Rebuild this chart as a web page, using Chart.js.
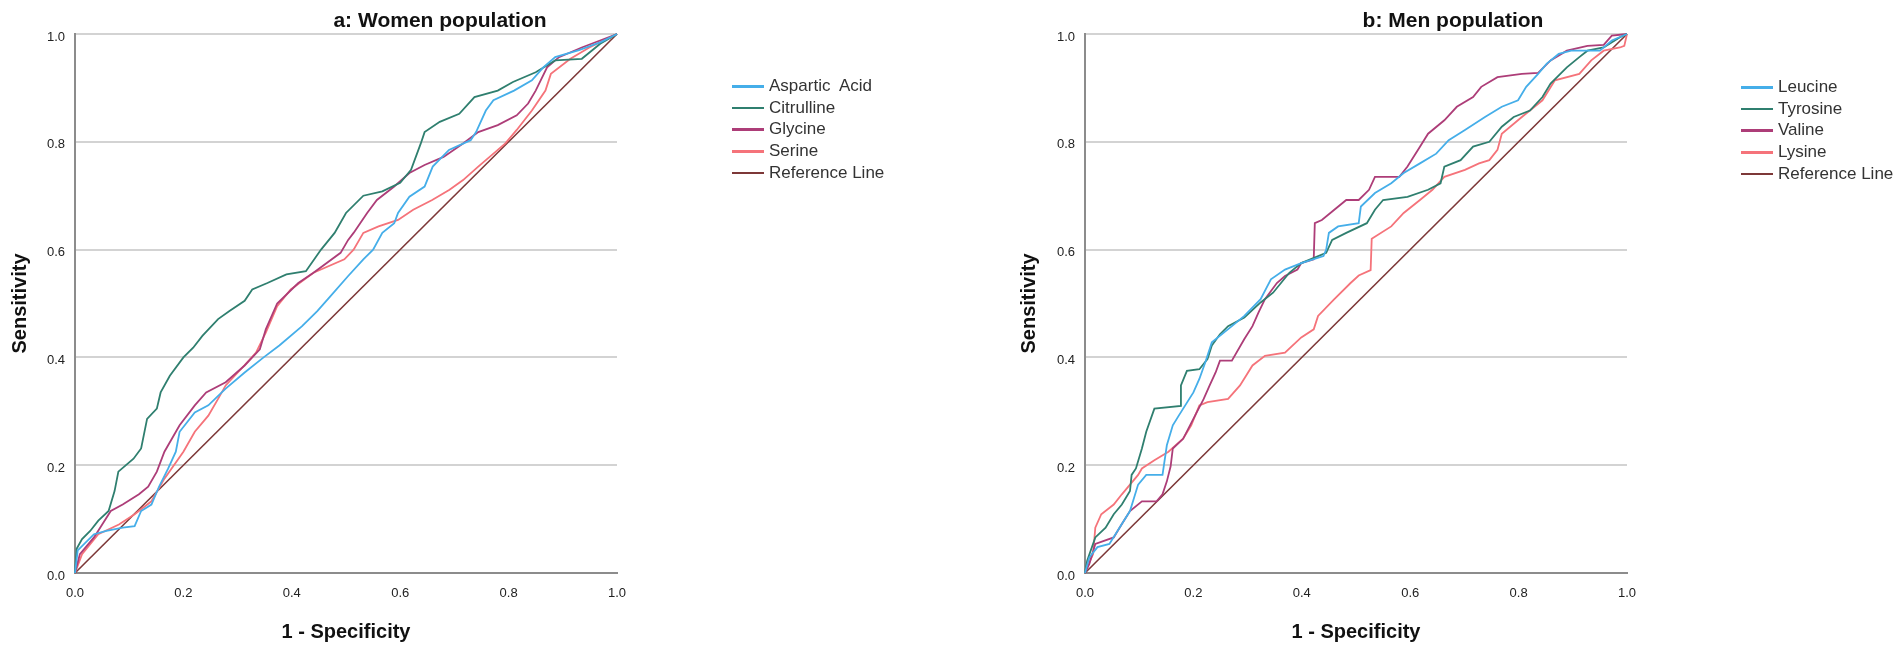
<!DOCTYPE html>
<html>
<head>
<meta charset="utf-8">
<script src="https://cdn.jsdelivr.net/npm/chart.js@4.4.1/dist/chart.umd.min.js"></script>
<style>
  body { margin: 0; background: #fff; }
  #wrap { position: relative; width: 1902px; height: 654px; overflow: hidden; font-family: "Liberation Sans", Arial, sans-serif; }
  canvas { position: absolute; top: 0; }
  .title { position: absolute; top: 8px; font-size: 21px; font-weight: bold; color: #111; transform: translateX(-50%); white-space: nowrap; line-height: 24px; }
  .legend { position: absolute; font-size: 17px; color: #333; }
  .legend div { position: relative; height: 21.7px; line-height: 21.7px; white-space: pre; padding-left: 37px; }
  .legend span { position: absolute; left: 0; top: 10px; width: 32px; height: 2.5px; }
</style>
</head>
<body>
<div id="wrap">
  <canvas id="women" width="951" height="654" style="left:0"></canvas>
  <canvas id="men" width="951" height="654" style="left:951px"></canvas>
  <div class="title" style="left:440px">a: Women population</div>
  <div class="title" style="left:1453px">b: Men population</div>
  <div class="legend" id="legWomen" style="left:732px; top:75px"></div>
  <div class="legend" id="legMen" style="left:1741px; top:76px"></div>
</div>
<script>
// tick labels for both axes
var tickLabels = ['0.0', '0.2', '0.4', '0.6', '0.8', '1.0']

// women population curves, [1 - specificity, sensitivity]
var womenNames = ['Aspartic  Acid', 'Citrulline', 'Glycine', 'Serine', 'Reference Line']

var aspartic = [[0,0],[0.005,0.042],[0.035,0.072],[0.058,0.078],[0.088,0.084],[0.11,0.087],[0.122,0.115],
  [0.141,0.127],[0.155,0.16],[0.172,0.194],[0.186,0.225],[0.193,0.262],[0.221,0.298],[0.246,0.311],
  [0.278,0.342],[0.313,0.372],[0.348,0.4],[0.377,0.422],[0.419,0.458],[0.447,0.486],[0.469,0.511],
  [0.504,0.551],[0.532,0.582],[0.55,0.6],[0.567,0.631],[0.589,0.649],[0.596,0.668],[0.617,0.698],
  [0.645,0.717],[0.66,0.754],[0.69,0.785],[0.73,0.803],[0.74,0.818],[0.758,0.858],[0.772,0.877],
  [0.81,0.895],[0.843,0.914],[0.864,0.938],[0.886,0.957],[0.93,0.97],[0.97,0.985],[1,1]]

var citrulline = [[0,0],[0.003,0.045],[0.013,0.063],[0.028,0.078],[0.043,0.097],[0.062,0.115],[0.073,0.152],
  [0.08,0.188],[0.108,0.212],[0.122,0.231],[0.133,0.286],[0.151,0.305],[0.158,0.335],[0.175,0.366],
  [0.2,0.4],[0.218,0.418],[0.235,0.44],[0.264,0.471],[0.285,0.486],[0.313,0.505],[0.327,0.526],
  [0.355,0.538],[0.39,0.554],[0.426,0.56],[0.454,0.6],[0.479,0.631],[0.5,0.668],[0.532,0.7],
  [0.567,0.708],[0.6,0.724],[0.62,0.748],[0.638,0.797],[0.645,0.818],[0.673,0.837],[0.709,0.852],
  [0.737,0.883],[0.78,0.895],[0.808,0.911],[0.85,0.929],[0.886,0.951],[0.935,0.954],[0.969,0.982],[1,1]]

var glycine = [[0,0],[0.009,0.035],[0.035,0.066],[0.066,0.115],[0.088,0.127],[0.118,0.146],[0.135,0.16],
  [0.151,0.188],[0.165,0.225],[0.193,0.274],[0.221,0.311],[0.242,0.335],[0.278,0.354],[0.313,0.385],
  [0.341,0.415],[0.352,0.452],[0.373,0.5],[0.412,0.538],[0.44,0.557],[0.49,0.594],[0.504,0.618],
  [0.514,0.631],[0.539,0.668],[0.557,0.692],[0.589,0.717],[0.617,0.742],[0.645,0.757],[0.68,0.772],
  [0.716,0.797],[0.744,0.818],[0.78,0.831],[0.815,0.849],[0.836,0.871],[0.85,0.895],[0.871,0.938],
  [0.893,0.957],[0.935,0.975],[1,1]]

var serine = [[0,0],[0.013,0.035],[0.043,0.072],[0.081,0.09],[0.11,0.109],[0.141,0.133],[0.165,0.175],
  [0.2,0.225],[0.221,0.262],[0.246,0.292],[0.264,0.323],[0.278,0.348],[0.306,0.378],[0.334,0.409],
  [0.352,0.446],[0.373,0.495],[0.398,0.526],[0.44,0.557],[0.497,0.582],[0.514,0.6],[0.532,0.631],
  [0.56,0.643],[0.596,0.655],[0.624,0.674],[0.659,0.692],[0.691,0.711],[0.716,0.729],[0.744,0.754],
  [0.772,0.778],[0.794,0.797],[0.815,0.822],[0.843,0.858],[0.868,0.895],[0.878,0.926],[0.914,0.954],
  [0.949,0.975],[1,1]]

// men population curves
var menNames = ['Leucine', 'Tyrosine', 'Valine', 'Lysine', 'Reference Line']

var leucine = [[0,0],[0.008,0.029],[0.023,0.048],[0.045,0.054],[0.068,0.091],[0.083,0.115],[0.098,0.164],
  [0.113,0.182],[0.143,0.182],[0.151,0.237],[0.162,0.274],[0.173,0.292],[0.2,0.335],[0.211,0.36],
  [0.222,0.391],[0.234,0.428],[0.271,0.458],[0.294,0.477],[0.324,0.508],[0.343,0.545],[0.369,0.563],
  [0.399,0.575],[0.44,0.588],[0.445,0.6],[0.45,0.631],[0.467,0.643],[0.505,0.649],[0.509,0.68],
  [0.535,0.705],[0.565,0.723],[0.588,0.742],[0.618,0.76],[0.648,0.778],[0.671,0.803],[0.701,0.822],
  [0.738,0.846],[0.769,0.865],[0.799,0.877],[0.814,0.902],[0.836,0.926],[0.852,0.945],[0.874,0.963],
  [0.897,0.969],[0.95,0.969],[0.972,0.988],[1,1]]

var tyrosine = [[0,0],[0.004,0.023],[0.019,0.066],[0.038,0.084],[0.053,0.109],[0.068,0.127],[0.083,0.152],
  [0.086,0.182],[0.094,0.194],[0.105,0.231],[0.113,0.262],[0.128,0.305],[0.177,0.31],[0.177,0.348],
  [0.188,0.375],[0.211,0.378],[0.226,0.397],[0.234,0.422],[0.249,0.443],[0.264,0.458],[0.294,0.474],
  [0.324,0.502],[0.347,0.52],[0.377,0.557],[0.399,0.575],[0.445,0.594],[0.456,0.618],[0.482,0.631],
  [0.52,0.649],[0.535,0.674],[0.55,0.692],[0.595,0.698],[0.633,0.711],[0.656,0.723],[0.663,0.754],
  [0.693,0.766],[0.716,0.791],[0.746,0.8],[0.769,0.828],[0.791,0.846],[0.821,0.858],[0.844,0.883],
  [0.859,0.908],[0.889,0.938],[0.912,0.957],[0.927,0.969],[0.957,0.975],[0.987,0.994],[1,1]]

var valine = [[0,0],[0.008,0.017],[0.019,0.054],[0.053,0.066],[0.068,0.091],[0.083,0.115],[0.105,0.133],
  [0.132,0.133],[0.143,0.146],[0.151,0.17],[0.158,0.198],[0.162,0.231],[0.181,0.249],[0.203,0.292],
  [0.219,0.323],[0.23,0.348],[0.241,0.372],[0.249,0.394],[0.271,0.394],[0.294,0.434],[0.309,0.458],
  [0.32,0.483],[0.332,0.508],[0.354,0.538],[0.369,0.551],[0.392,0.563],[0.399,0.575],[0.422,0.582],
  [0.424,0.649],[0.437,0.655],[0.46,0.674],[0.482,0.692],[0.505,0.692],[0.524,0.711],[0.535,0.735],
  [0.58,0.735],[0.595,0.754],[0.618,0.791],[0.633,0.815],[0.663,0.84],[0.686,0.865],[0.716,0.883],
  [0.731,0.902],[0.761,0.92],[0.806,0.926],[0.836,0.928],[0.859,0.951],[0.889,0.969],[0.927,0.978],
  [0.957,0.98],[0.972,0.997],[1,1]]

var lysine = [[0,0],[0.004,0.011],[0.015,0.035],[0.019,0.084],[0.03,0.109],[0.053,0.127],[0.068,0.146],
  [0.083,0.164],[0.098,0.182],[0.105,0.194],[0.128,0.209],[0.154,0.225],[0.181,0.249],[0.196,0.274],
  [0.211,0.311],[0.226,0.317],[0.264,0.323],[0.286,0.348],[0.309,0.385],[0.332,0.403],[0.369,0.409],
  [0.399,0.437],[0.422,0.452],[0.43,0.477],[0.46,0.508],[0.49,0.538],[0.505,0.552],[0.527,0.562],
  [0.529,0.62],[0.565,0.643],[0.588,0.668],[0.618,0.692],[0.641,0.711],[0.663,0.735],[0.701,0.748],
  [0.727,0.76],[0.746,0.766],[0.761,0.785],[0.769,0.815],[0.806,0.846],[0.844,0.877],[0.867,0.914],
  [0.912,0.926],[0.934,0.951],[0.957,0.969],[0.987,0.975],[0.995,0.978],[1,1]]

var refLine = [[0,0],[1,1]]

var colors = ['#45aee9', '#2f7f6f', '#ad3d78', '#f5737a', '#7d3838']

function toPoints(arr) {
  return arr.map(function(p){ return {x: p[0], y: p[1]} })
}

function buildLegend(id, names) {
  var el = document.getElementById(id)
  names.forEach(function(n, i){
    var row = document.createElement('div')
    row.textContent = n
    var sw = document.createElement('span')
    sw.style.background = colors[i]
    row.appendChild(sw)
    el.appendChild(row)
  })
}

Chart.defaults.font.family = '"Liberation Sans", Arial, sans-serif'

function makeChart(id, names, curves, padLeft, yWidth, padRight) {
  var datasets = curves.map(function(c, i){
    return {
      label: names[i],
      data: toPoints(c),
      borderColor: colors[i],
      borderWidth: i == 4 ? 1.6 : 1.8,
      pointRadius: 0,
      tension: 0,
      fill: false,
      clip: false
    }
  })

  return new Chart(document.getElementById(id), {
    type: 'line',
    data: { datasets: datasets },
    options: {
      responsive: false,
      animation: false,
      layout: { padding: { left: padLeft, right: padRight, top: 34, bottom: 0 } },
      plugins: {
        legend: { display: false },
        title: { display: false },
        tooltip: { enabled: false }
      },
      scales: {
        x: {
          type: 'linear', min: 0, max: 1,
          ticks: {
            stepSize: 0.2, padding: 13, color: '#222', maxRotation: 0,
            font: { size: 13 },
            callback: function(v, i){ return tickLabels[i] }
          },
          grid: { drawOnChartArea: false, drawTicks: false },
          border: { color: '#8c8c8c', width: 2 },
          title: { display: true, text: '1 - Specificity', color: '#111',
                   font: { size: 20, weight: 'bold' }, padding: { top: 4, bottom: 10 } },
          afterFit: function(s){ s.height = 81 }
        },
        y: {
          type: 'linear', min: 0, max: 1,
          ticks: {
            stepSize: 0.2, padding: 10, color: '#222', labelOffset: 3,
            font: { size: 13 },
            callback: function(v, i){ return tickLabels[i] }
          },
          grid: { color: '#d3d3d3', lineWidth: 2, drawTicks: false },
          border: { color: '#8c8c8c', width: 2 },
          title: { display: true, text: 'Sensitivity', color: '#111',
                   font: { size: 20, weight: 'bold' }, padding: { top: 4, bottom: 0 } },
          afterFit: function(s){ s.width = yWidth }
        }
      }
    }
  })
}

makeChart('women', womenNames, [aspartic, citrulline, glycine, serine, refLine], 4, 71, 334)
makeChart('men', menNames, [leucine, tyrosine, valine, lysine, refLine], 62, 72, 275)

buildLegend('legWomen', womenNames)
buildLegend('legMen', menNames)
</script>
</body>
</html>
